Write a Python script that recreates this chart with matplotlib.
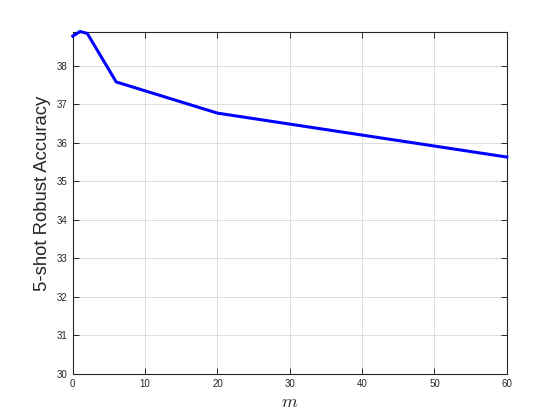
import matplotlib
matplotlib.use('Agg')
import matplotlib.pyplot as plt

# number of m values vs. 5-shot robust accuracy
m_values = [0, 1, 2, 6, 20, 60]
robust_acc = [38.77, 38.89, 38.84, 37.58, 36.77, 35.63]

x_ticks = [0, 10, 20, 30, 40, 50, 60]
y_ticks = [30, 31, 32, 33, 34, 35, 36, 37, 38]

AX_COLOR = '#262626'

plt.rcParams['font.family'] = ['Liberation Sans', 'DejaVu Sans']
plt.rcParams['mathtext.fontset'] = 'cm'

fig = plt.figure(figsize=(5.6, 4.2), dpi=100)
ax = fig.add_axes([0.13, 0.11, 0.775, 0.815])

ax.plot(m_values, robust_acc, color=(0, 0, 1), linewidth=2.2,
        solid_joinstyle='miter', clip_on=False, zorder=5)

ax.set_xlim(0, 60)
ax.set_ylim(30, max(robust_acc))
ax.set_xticks(x_ticks)
ax.set_yticks(y_ticks)

ax.grid(True, color='#dcdcdc', linewidth=0.7)
ax.set_axisbelow(True)

ax.tick_params(direction='in', length=4, width=0.7, colors=AX_COLOR,
               labelsize=7, top=True, right=True, pad=4)
for s in ax.spines.values():
    s.set_color(AX_COLOR)
    s.set_linewidth(0.8)

ax.set_xlabel('$m$', fontsize=13, color=AX_COLOR, labelpad=3)
ax.set_ylabel('5-shot Robust Accuracy', fontsize=13.3, color=AX_COLOR)
ax.yaxis.set_label_coords(-0.05, 0.527)

fig.savefig('out.png', dpi=100)
